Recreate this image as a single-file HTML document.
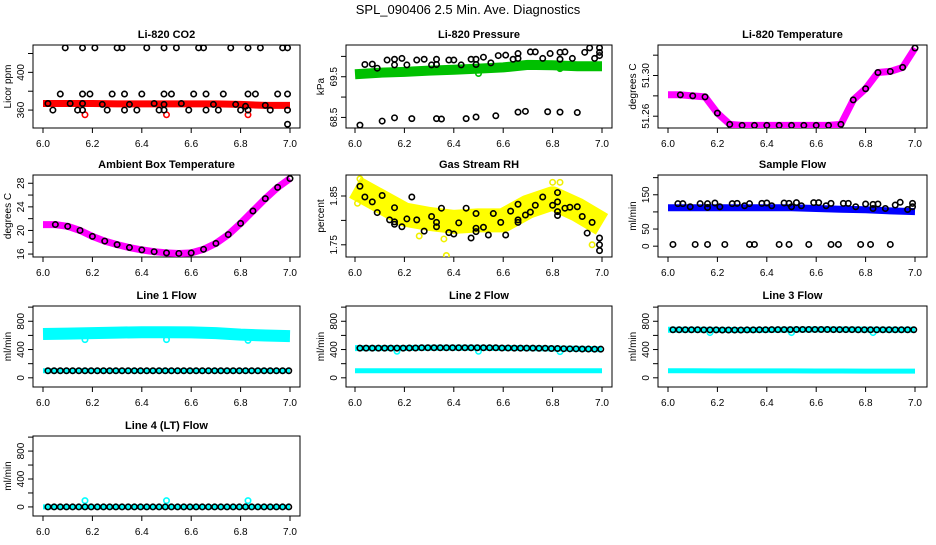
<!DOCTYPE html>
<html><head><meta charset="utf-8">
<style>
html,body{margin:0;padding:0;background:#fff;}
svg text{font-family:"Liberation Sans",Arial,sans-serif;}
</style></head>
<body>
<svg id="chart" width="936" height="540" viewBox="0 0 936 540" xmlns="http://www.w3.org/2000/svg">
<text x="468" y="14" text-anchor="middle" font-size="13">SPL_090406  2.5 Min. Ave. Diagnostics</text>
</svg>
<script>
// ---- data ----
const xTicks = [6.0, 6.2, 6.4, 6.6, 6.8, 7.0];
const xTickLabels = ["6.0", "6.2", "6.4", "6.6", "6.8", "7.0"];
const bandX11 = [6.0, 6.1, 6.2, 6.3, 6.4, 6.5, 6.6, 6.7, 6.8, 6.9, 7.0];
const bandX21 = [6.0, 6.05, 6.1, 6.15, 6.2, 6.25, 6.3, 6.35, 6.4, 6.45, 6.5, 6.55, 6.6, 6.65, 6.7, 6.75, 6.8, 6.85, 6.9, 6.95, 7.0];
const flowTimes = [6.02,6.045,6.07,6.095,6.12,6.145,6.17,6.195,6.22,6.245,6.27,6.295,6.32,6.345,6.37,6.395,6.42,6.445,6.47,6.495,6.52,6.545,6.57,6.595,6.62,6.645,6.67,6.695,6.72,6.745,6.77,6.795,6.82,6.845,6.87,6.895,6.92,6.945,6.97,6.995];

// CO2
const co2Band = [367, 367, 367, 366.5, 366.5, 366.5, 366.5, 366.5, 366, 365, 365];
const co2BlackX = [6.09,6.16,6.21,6.3,6.32,6.42,6.49,6.54,6.63,6.65,6.76,6.83,6.88,6.97,6.99, 6.07,6.16,6.19,6.28,6.33,6.4,6.49,6.52,6.61,6.66,6.73,6.83,6.86,6.95,6.99, 6.02,6.11,6.16,6.24,6.35,6.45,6.49,6.56,6.69,6.78,6.82,6.9, 6.04,6.14,6.16,6.26,6.33,6.38,6.47,6.49,6.59,6.66,6.71,6.8,6.83,6.92,6.99, 6.99];
const co2BlackY = [426,426,426,426,426,426,426,426,426,426,426,426,426,426,426, 377,377,377,377,377,377,377,377,377,377,377,377,377,377,377, 367,367,367,366,366,367,366,367,366,366,364,365, 360,360,360,360,360,360,360,360,360,360,360,360,360,360,360, 345];
const co2RedX = [6.17, 6.5, 6.83];
const co2RedY = [355, 355, 355];

// Pressure
const presBand = [69.56, 69.6, 69.62, 69.65, 69.67, 69.7, 69.73, 69.79, 69.78, 69.76, 69.76];
const presBlackX = [6.04,6.07,6.09,6.13,6.16,6.16,6.19,6.21,6.25,6.28,6.31,6.33,6.33,6.38,6.40,6.43,6.47,6.49,6.49,6.52,6.55,6.58,6.61,6.64,6.66,6.66,6.71,6.73,6.76,6.79,6.83,6.83,6.85,6.88,6.93,6.95,6.97,6.99,6.99,6.99, 6.02,6.11,6.16,6.23,6.33,6.35,6.45,6.49,6.57,6.66,6.69,6.78,6.83,6.90];
const presBlackY = [69.80,69.81,69.71,69.91,69.93,69.79,69.95,69.79,69.91,69.93,69.79,69.93,69.80,69.91,69.91,69.79,69.93,69.93,69.80,69.98,69.84,70.02,70.03,69.93,69.95,70.07,70.11,70.11,69.95,70.07,70.10,69.93,70.11,69.95,70.10,70.21,69.95,70.21,70.10,70.02, 68.31,68.41,68.49,68.47,68.47,68.46,68.47,68.51,68.54,68.63,68.65,68.64,68.63,68.62];
const presGreenX = [6.16, 6.5, 6.83];
const presGreenY = [69.6, 69.58, 69.7];

// Li-820 temperature
const tempBand = [51.281,51.281,51.280,51.279,51.263,51.252,51.251,51.251,51.251,51.251,51.251,51.251,51.251,51.251,51.252,51.276,51.287,51.303,51.304,51.308,51.327];

// Ambient
const ambBand = [21,21,20.7,20,19,18.2,17.6,17.1,16.7,16.4,16.2,16.1,16.2,16.8,17.8,19.3,21.2,23.3,25.4,27.3,28.8];

// RH
const rhBand = [1.868, 1.84, 1.812, 1.803, 1.797, 1.80, 1.80, 1.828, 1.845, 1.822, 1.792];
const rhBlackX = [6.02,6.04,6.07,6.09,6.11,6.14,6.16,6.16,6.16,6.19,6.21,6.23,6.25,6.28,6.31,6.33,6.33,6.35,6.38,6.40,6.42,6.45,6.47,6.49,6.49,6.49,6.52,6.54,6.56,6.59,6.61,6.63,6.66,6.66,6.66,6.69,6.71,6.73,6.76,6.8,6.82,6.82,6.82,6.82,6.85,6.87,6.9,6.92,6.94,6.96,6.99,6.99,6.99];
const rhBlackY = [1.870,1.848,1.838,1.816,1.851,1.801,1.826,1.797,1.792,1.787,1.803,1.848,1.801,1.778,1.808,1.796,1.787,1.825,1.775,1.772,1.795,1.825,1.764,1.814,1.784,1.777,1.786,1.770,1.814,1.796,1.770,1.819,1.833,1.801,1.796,1.811,1.817,1.831,1.848,1.831,1.857,1.838,1.818,1.810,1.825,1.827,1.828,1.808,1.774,1.796,1.764,1.750,1.738];
const rhYellowX = [6.01, 6.02, 6.26, 6.36, 6.37, 6.8, 6.83, 6.96];
const rhYellowY = [1.835, 1.885, 1.768, 1.762, 1.728, 1.878, 1.878, 1.750];

// Sample flow
const sfBand = [112, 112, 112, 112, 112, 112, 110, 108, 106, 103, 101];
const sfBlackX = [6.04,6.06,6.09,6.13,6.16,6.16,6.19,6.21,6.26,6.28,6.31,6.33,6.38,6.4,6.42,6.47,6.49,6.5,6.52,6.54,6.59,6.61,6.64,6.66,6.71,6.73,6.76,6.8,6.83,6.83,6.85,6.88,6.92,6.94,6.97,6.99,6.99, 6.02,6.11,6.16,6.23,6.33,6.35,6.45,6.49,6.57,6.66,6.69,6.78,6.82,6.9];
const sfBlackY = [124,124,115,124,124,113,126,115,124,125,118,124,125,126,118,126,125,115,127,118,127,127,118,125,125,125,115,123,122,110,123,110,120,128,107,125,115, 5,5,5,5,5,5,5,5,5,5,5,5,5,5];

// Line flows
const l1Upper = [620, 625, 632, 640, 645, 645, 642, 632, 612, 598, 590];
const l1Lower = [100, 100, 100, 100, 100, 100, 100, 100, 100, 100, 100];
const l1Black = [100,100,100,100,100,100,100,100,100,100,100,100,100,100,100,100,100,100,100,100,100,100,100,100,100,100,100,100,100,100,100,100,100,100,100,100,100,100,100,100];
const l1OutX = [6.17, 6.5, 6.83];
const l1OutY = [540, 540, 530];

const l2Upper = [420, 420, 422, 425, 425, 425, 422, 420, 415, 410, 405];
const l2Lower = [100, 100, 100, 100, 100, 100, 100, 100, 100, 100, 100];
const l2Black = [420,420,420,420,420,420,420,420,422,422,425,425,425,425,425,425,425,425,425,425,425,425,425,422,422,420,420,420,420,418,418,415,415,412,410,410,408,407,405,405];
const l2OutX = [6.17, 6.5, 6.83];
const l2OutY = [375, 375, 370];

const l3Upper = [680, 680, 678, 676, 678, 682, 684, 684, 682, 680, 680];
const l3Lower = [100, 100, 98, 98, 98, 98, 96, 96, 95, 95, 95];
const l3Black = [680,680,680,680,680,678,678,678,676,676,676,676,678,678,680,680,682,682,682,682,684,684,684,684,684,684,682,682,682,682,680,680,680,680,680,680,680,680,680,680];
const l3OutX = [6.17, 6.5, 6.83];
const l3OutY = [640, 640, 640];

const l4Band = [0, 0, 0, 0, 0, 0, 0, 0, 0, 0, 0];
const l4Black = [0,0,0,0,0,0,0,0,0,0,0,0,0,0,0,0,0,0,0,0,0,0,0,0,0,0,0,0,0,0,0,0,0,0,0,0,0,0,0,0];
const l4OutX = [6.17, 6.5, 6.83];
const l4OutY = [90, 90, 90];

// ---- layout ----
const NS = "http://www.w3.org/2000/svg";
const svg = document.getElementById("chart");
const COLS = [{bl:33,br:300,x0:43,x1:290},{bl:346,br:612,x0:355,x1:602},{bl:658,br:927,x0:668,x1:915}];
const ROWS = [{t:45,b:128},{t:175,b:257},{t:306,b:387},{t:436,b:516}];

function mk(tag, attrs, parent) {
  const e = document.createElementNS(NS, tag);
  for (const k in attrs) e.setAttribute(k, attrs[k]);
  (parent || svg).appendChild(e);
  return e;
}

function panel(o) {
  const c = COLS[o.col], r = ROWS[o.row];
  const g = mk("g", {});
  
  
  const xs = v => c.x0 + (v - 6) * (c.x1 - c.x0);
  const ys = v => r.b - (v - o.ylim[0]) / (o.ylim[1] - o.ylim[0]) * (r.b - r.t);
  const box = mk("rect", {x:c.bl, y:r.t, width:c.br-c.bl, height:r.b-r.t, fill:"none", stroke:"#000", "stroke-width":1}, g);
  
  
  const title = mk("text", {x:(c.bl+c.br)/2, y:r.t-7, "text-anchor":"middle", "font-size":11, "font-weight":"bold"}, g);
  title.textContent = o.title;
  
  
  xTicks.forEach((v, i) => {
    const x = xs(v);
    mk("line", {x1:x, x2:x, y1:r.b, y2:r.b+5, stroke:"#000"}, g);
    const t = mk("text", {x:x, y:r.b+19, "text-anchor":"middle", "font-size":10}, g);
    t.textContent = xTickLabels[i];
    
    
  });
  o.yTicks.forEach((v, i) => {
    const y = ys(v);
    mk("line", {x1:c.bl-5, x2:c.bl, y1:y, y2:y, stroke:"#000"}, g);
    if (o.yLabels[i] !== "") {
      const t = mk("text", {x:0, y:0, "text-anchor":"middle", "font-size":10, transform:`translate(${c.bl-9},${y}) rotate(-90)`}, g);
      t.textContent = o.yLabels[i];
      
      
    }
  });
  const yt = mk("text", {x:0, y:0, "text-anchor":"middle", "font-size":10, transform:`translate(${c.bl-22},${(r.t+r.b)/2}) rotate(-90)`}, g);
  yt.textContent = o.ylab;
  
  
  const cid = "clip" + o.name;
  const cp = mk("clipPath", {id:cid}, g);
  mk("rect", {x:c.bl, y:r.t, width:c.br-c.bl, height:r.b-r.t}, cp);
  const pg = mk("g", {"clip-path":`url(#${cid})`}, g);
  (o.bands || []).forEach(b => {
    const pts = b.x.map((v, i) => xs(v).toFixed(1) + "," + ys(b.y[i]).toFixed(1)).join(" ");
    const pl = mk("polyline", {points:pts, fill:"none", stroke:b.color, "stroke-width":b.w, "stroke-linejoin":"round", "stroke-linecap":"butt"}, pg);
    
    
  });
  (o.points || []).forEach(p => {
    p.x.forEach((v, i) => {
      const ci = mk("circle", {cx:xs(v), cy:ys(p.y[i]), r:2.7, fill:"none", stroke:p.color, "stroke-width":1.6}, pg);
      
      
    });
  });
}

const flowTicks = [0, 200, 400, 600, 800, 1000];
const flowLabels = ["0", "", "400", "", "800", ""];

panel({name:"co2-panel", col:0, row:0, title:"Li-820 CO2", ylab:"Licor ppm", ylim:[341,429],
  yTicks:[360,380,400,420], yLabels:["360","","400",""],
  bands:[{x:bandX11, y:co2Band, color:"#ff0000", w:7}],
  points:[{x:co2RedX, y:co2RedY, color:"#ff0000"},{x:co2BlackX, y:co2BlackY, color:"#000"}]});
panel({name:"pressure-panel", col:1, row:0, title:"Li-820 Pressure", ylab:"kPa", ylim:[68.24,70.28],
  yTicks:[68.5,69,69.5,70], yLabels:["68.5","","69.5",""],
  bands:[{x:bandX11, y:presBand, color:"#00c000", w:10}],
  points:[{x:presGreenX, y:presGreenY, color:"#00c000"},{x:presBlackX, y:presBlackY, color:"#000"}]});
panel({name:"temperature-panel", col:2, row:0, title:"Li-820 Temperature", ylab:"degrees C", ylim:[51.2484,51.330],
  yTicks:[51.26,51.28,51.30,51.32], yLabels:["51.26","","51.30",""],
  bands:[{x:bandX21, y:tempBand, color:"#ff00ff", w:7}],
  points:[{x:bandX21.slice(1), y:tempBand.slice(1), color:"#000"}]});
panel({name:"ambient-panel", col:0, row:1, title:"Ambient Box Temperature", ylab:"degrees C", ylim:[15.5,29.4],
  yTicks:[16,18,20,22,24,26,28], yLabels:["16","","20","","24","","28"],
  bands:[{x:bandX21, y:ambBand, color:"#ff00ff", w:7}],
  points:[{x:bandX21.slice(1), y:ambBand.slice(1), color:"#000"}]});
panel({name:"rh-panel", col:1, row:1, title:"Gas Stream RH", ylab:"percent", ylim:[1.725,1.893],
  yTicks:[1.75,1.80,1.85], yLabels:["1.75","","1.85"],
  bands:[{x:bandX11, y:rhBand, color:"#ffff00", w:24}],
  points:[{x:rhYellowX, y:rhYellowY, color:"#f0f000"},{x:rhBlackX, y:rhBlackY, color:"#000"}]});
panel({name:"sample-flow-panel", col:2, row:1, title:"Sample Flow", ylab:"ml/min", ylim:[-31.6,207.7],
  yTicks:[0,50,100,150,200], yLabels:["0","50","","150",""],
  bands:[{x:bandX11, y:sfBand, color:"#0000ff", w:7}],
  points:[{x:sfBlackX, y:sfBlackY, color:"#000"}]});
panel({name:"line1-flow-panel", col:0, row:2, title:"Line 1 Flow", ylab:"ml/min", ylim:[-130,1016],
  yTicks:flowTicks, yLabels:flowLabels,
  bands:[{x:bandX11, y:l1Upper, color:"#00ffff", w:12},{x:bandX11, y:l1Lower, color:"#00ffff", w:5}],
  points:[{x:l1OutX, y:l1OutY, color:"#00ffff"},{x:flowTimes, y:l1Black, color:"#000"}]});
panel({name:"line2-flow-panel", col:1, row:2, title:"Line 2 Flow", ylab:"ml/min", ylim:[-130,1016],
  yTicks:flowTicks, yLabels:flowLabels,
  bands:[{x:bandX11, y:l2Upper, color:"#00ffff", w:6},{x:bandX11, y:l2Lower, color:"#00ffff", w:5}],
  points:[{x:l2OutX, y:l2OutY, color:"#00ffff"},{x:flowTimes, y:l2Black, color:"#000"}]});
panel({name:"line3-flow-panel", col:2, row:2, title:"Line 3 Flow", ylab:"ml/min", ylim:[-130,1016],
  yTicks:flowTicks, yLabels:flowLabels,
  bands:[{x:bandX11, y:l3Upper, color:"#00ffff", w:6},{x:bandX11, y:l3Lower, color:"#00ffff", w:5}],
  points:[{x:l3OutX, y:l3OutY, color:"#00ffff"},{x:flowTimes, y:l3Black, color:"#000"}]});
panel({name:"line4-flow-panel", col:0, row:3, title:"Line 4 (LT) Flow", ylab:"ml/min", ylim:[-130,1016],
  yTicks:flowTicks, yLabels:flowLabels,
  bands:[{x:bandX11, y:l4Band, color:"#00ffff", w:5}],
  points:[{x:l4OutX, y:l4OutY, color:"#00ffff"},{x:flowTimes, y:l4Black, color:"#000"}]});
</script>
</body></html>
